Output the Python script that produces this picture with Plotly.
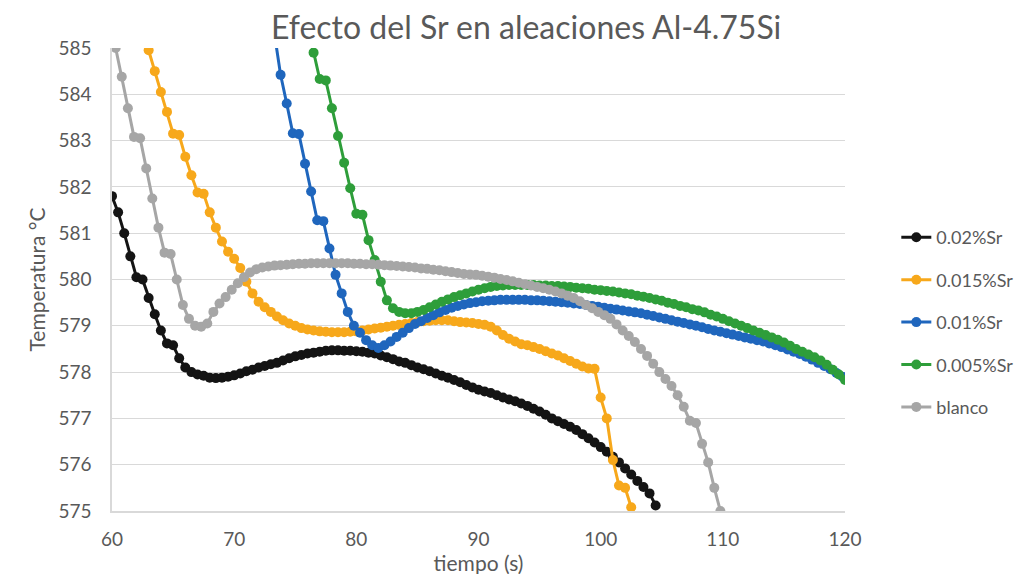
import numpy as np
import plotly.graph_objects as go

# ---- data (time in s, temperature in °C); samples every 0.5 s ----
names = ["0.02%Sr", "0.015%Sr", "0.01%Sr", "0.005%Sr", "blanco"]
colors = ["#141414", "#F7A81B", "#1F66BD", "#2E9E3A", "#A6A6A6"]
step = 0.5

t0_002 = 60.0
temp_002 = [581.8, 581.45, 581.0, 580.5, 580.05, 580.0, 579.6, 579.25, 578.9, 578.62,
            578.58, 578.3, 578.1, 578.0, 577.95, 577.92, 577.88, 577.87, 577.88, 577.9,
            577.93, 577.97, 578.02, 578.05, 578.1, 578.13, 578.17, 578.2, 578.25, 578.3,
            578.34, 578.37, 578.4, 578.42, 578.44, 578.46, 578.47, 578.47, 578.46, 578.46,
            578.45, 578.44, 578.42, 578.4, 578.36, 578.32, 578.28, 578.23, 578.2, 578.15,
            578.1, 578.06, 578.02, 577.97, 577.92, 577.88, 577.83, 577.78, 577.72, 577.67,
            577.62, 577.58, 577.55, 577.5, 577.45, 577.41, 577.37, 577.32, 577.27, 577.21,
            577.15, 577.08, 577.0, 576.94, 576.88, 576.82, 576.75, 576.66, 576.57, 576.48,
            576.38, 576.28, 576.17, 576.05, 575.92, 575.79, 575.65, 575.52, 575.38, 575.12]

t0_0015 = 62.5
temp_0015 = [585.4, 584.95, 584.5, 584.05, 583.62, 583.15, 583.12, 582.65, 582.25, 581.88,
             581.85, 581.45, 581.12, 580.82, 580.6, 580.45, 580.25, 579.95, 579.7, 579.52,
             579.4, 579.3, 579.2, 579.12, 579.05, 579.0, 578.95, 578.92, 578.9, 578.88,
             578.87, 578.86, 578.86, 578.86, 578.87, 578.88, 578.9, 578.92, 578.94, 578.96,
             578.98, 579.0, 579.02, 579.04, 579.06, 579.08, 579.1, 579.11, 579.12, 579.12,
             579.12, 579.1, 579.08, 579.07, 579.06, 579.04, 579.02, 578.98, 578.9, 578.8,
             578.72, 578.66, 578.6, 578.58, 578.54, 578.5, 578.45, 578.4, 578.36, 578.3,
             578.24, 578.18, 578.12, 578.08, 578.07, 577.45, 577.0, 576.1, 575.55, 575.5,
             575.08]

t0_001 = 73.3
temp_001 = [585.3, 584.42, 583.8, 583.16, 583.14, 582.5, 581.9, 581.28, 581.26, 580.67,
            580.1, 579.7, 579.3, 579.0, 578.85, 578.69, 578.58, 578.52, 578.58, 578.66,
            578.76, 578.85, 578.95, 579.04, 579.1, 579.17, 579.23, 579.29, 579.34, 579.39,
            579.43, 579.46, 579.49, 579.51, 579.53, 579.54, 579.55, 579.56, 579.56, 579.56,
            579.56, 579.56, 579.55, 579.55, 579.54, 579.53, 579.52, 579.51, 579.5, 579.48,
            579.47, 579.45, 579.43, 579.41, 579.39, 579.37, 579.35, 579.33, 579.31, 579.29,
            579.27, 579.24, 579.21, 579.18, 579.15, 579.12, 579.09, 579.06, 579.03, 579.0,
            578.97, 578.93, 578.9, 578.87, 578.84, 578.81, 578.78, 578.75, 578.72, 578.69,
            578.66, 578.62, 578.58, 578.54, 578.49, 578.44, 578.39, 578.33, 578.27, 578.2,
            578.13, 578.06, 577.98, 577.9]

t0_0005 = 76.0
temp_0005 = [585.5, 584.9, 584.33, 584.3, 583.7, 583.1, 582.52, 581.97, 581.42, 581.4,
             580.85, 580.42, 579.95, 579.55, 579.38, 579.3, 579.27, 579.27, 579.3, 579.34,
             579.4, 579.46, 579.52, 579.57, 579.62, 579.66, 579.7, 579.74, 579.78, 579.81,
             579.84, 579.86, 579.87, 579.88, 579.88, 579.88, 579.88, 579.88, 579.87, 579.87,
             579.86, 579.86, 579.85, 579.84, 579.82, 579.81, 579.8, 579.78, 579.77, 579.75,
             579.74, 579.72, 579.7, 579.68, 579.65, 579.63, 579.6, 579.57, 579.54, 579.5,
             579.47, 579.43, 579.4, 579.36, 579.33, 579.29, 579.24, 579.2, 579.15, 579.1,
             579.05, 579.0, 578.95, 578.9, 578.85, 578.8, 578.75, 578.7, 578.64, 578.57,
             578.5, 578.44, 578.38, 578.32, 578.25, 578.16, 578.05, 577.95, 577.83]

t0_blanco = 60.3
temp_blanco = [585.0, 584.38, 583.7, 583.08, 583.05, 582.4, 581.75, 581.12, 580.58,
               580.55, 580.0, 579.45, 579.15, 579.0, 578.98, 579.05, 579.3, 579.48, 579.62,
               579.78, 579.92, 580.05, 580.15, 580.22, 580.26, 580.28, 580.3, 580.31, 580.32,
               580.33, 580.34, 580.34, 580.35, 580.35, 580.35, 580.35, 580.35, 580.35, 580.35,
               580.34, 580.34, 580.33, 580.33, 580.32, 580.31, 580.3, 580.29, 580.28, 580.27,
               580.26, 580.24, 580.23, 580.21, 580.2, 580.18, 580.16, 580.14, 580.12, 580.11,
               580.1, 580.08, 580.06, 580.04, 580.01, 579.99, 579.96, 579.93, 579.9, 579.87,
               579.84, 579.81, 579.78, 579.74, 579.7, 579.65, 579.6, 579.53, 579.45, 579.38,
               579.3, 579.23, 579.15, 579.03, 578.9, 578.78, 578.65, 578.5, 578.35, 578.18,
               578.0, 577.85, 577.7, 577.5, 577.25, 576.95, 576.9, 576.45, 576.05, 575.5,
               575.0]

series = [(t0_002, temp_002), (t0_0015, temp_0015), (t0_001, temp_001),
          (t0_0005, temp_0005), (t0_blanco, temp_blanco)]

x_ticks = [60, 70, 80, 90, 100, 110, 120]
y_ticks = [575, 576, 577, 578, 579, 580, 581, 582, 583, 584, 585]

FONT = "Lato"
TXT = "#595959"

fig = go.Figure()
for i, ((t0, vals), name, col) in enumerate(zip(series, names, colors)):
    t = t0 + step * np.arange(len(vals))
    fig.add_trace(go.Scatter(
        x=t, y=vals, name=name, mode="lines+markers",
        line=dict(color=col, width=3),
        marker=dict(color=col, size=10),
        legendgroup=f"g{i}",
    ))

fig.update_layout(
    width=1028, height=574,
    margin=dict(l=104, r=191, t=40, b=71),
    paper_bgcolor="white", plot_bgcolor="white",
    font=dict(family=FONT, color=TXT, size=18),
    title=dict(text="Efecto del Sr en aleaciones Al-4.75Si",
               x=0.504, xanchor="center", y=0.965, yanchor="middle",
               font=dict(family=FONT, size=32, color=TXT)),
    legend=dict(x=1.07, xanchor="left", y=0.408, yanchor="middle",
                font=dict(family=FONT, size=18, color=TXT),
                tracegroupgap=16, bgcolor="rgba(0,0,0,0)"),
    showlegend=True,
)
fig.update_xaxes(range=[60, 120], tickvals=x_ticks, showgrid=False,
                 showline=True, linecolor="#D9D9D9", linewidth=1.5,
                 ticks="", zeroline=False, ticklabelstandoff=10,
                 title=dict(text="tiempo (s)", font=dict(size=21, color=TXT), standoff=2),
                 tickfont=dict(size=19, color=TXT))
fig.update_yaxes(range=[575, 585], tickvals=y_ticks, showgrid=True,
                 gridcolor="#D9D9D9", gridwidth=1.2,
                 showline=True, linecolor="#D9D9D9", linewidth=1.5,
                 ticks="", zeroline=False, ticklabelstandoff=15,
                 title=dict(text="Temperatura °C", font=dict(size=21, color=TXT), standoff=7),
                 tickfont=dict(size=19, color=TXT))

fig.write_html("out.html")
